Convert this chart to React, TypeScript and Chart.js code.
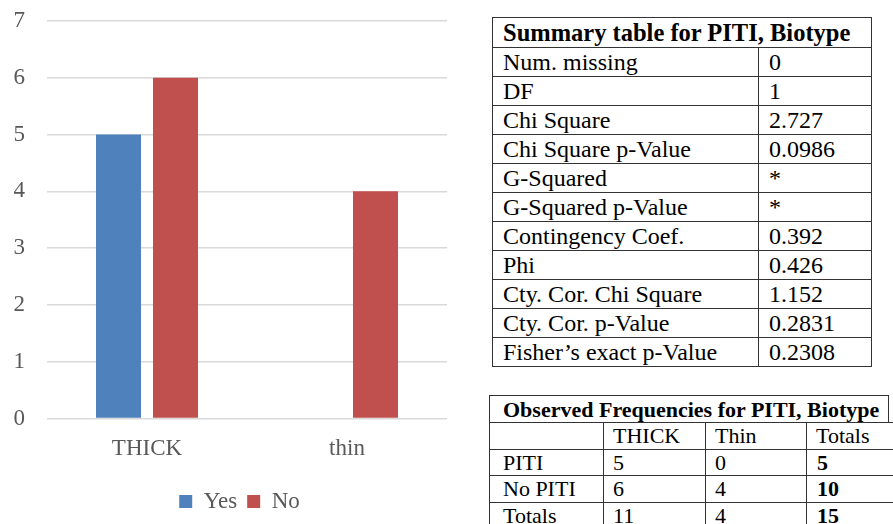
import React, { useEffect, useRef } from "react";
import { Chart, registerables } from "chart.js";

Chart.register(...registerables);

const categories = ["THICK", "thin"];
const yesValues = [5, 0];
const noValues = [6, 4];
const seriesNames = ["Yes", "No"];
const yTickMax = 7;

const summaryTitle = "Summary table for PITI, Biotype";
const summaryLabels = [
  "Num. missing",
  "DF",
  "Chi Square",
  "Chi Square p-Value",
  "G-Squared",
  "G-Squared p-Value",
  "Contingency Coef.",
  "Phi",
  "Cty. Cor. Chi Square",
  "Cty. Cor. p-Value",
  "Fisher\u2019s exact p-Value",
];
const summaryValues = ["0", "1", "2.727", "0.0986", "*", "*", "0.392", "0.426", "1.152", "0.2831", "0.2308"];

const freqTitle = "Observed Frequencies for PITI, Biotype";
const freqHeader = ["", "THICK", "Thin", "Totals"];
const freqRowLabels = ["PITI", "No PITI", "Totals"];
const freqThick = ["5", "6", "11"];
const freqThin = ["0", "4", "4"];
const freqTotals = ["5", "10", "15"];

const FONT = "'Liberation Serif', 'Times New Roman', serif";
const TEXT = "#595959";
const CH_LEFT = 14;
const CH_TOP = 8;
const CH_W = 446;
const CH_H = 516;

const legendShift = {
  id: "legendShift",
  afterLayout(chart: any) {
    if (chart.legend) {
      chart.legend.left += 9;
      chart.legend.right += 9;
    }
  },
};

function BarChart() {
  const ref = useRef<HTMLCanvasElement | null>(null);
  useEffect(() => {
    if (!ref.current) return;
    const chart = new Chart(ref.current, {
      type: "bar",
      data: {
        labels: categories,
        datasets: [
          { label: seriesNames[0], data: yesValues, backgroundColor: "#4f81bd", barPercentage: 0.79, categoryPercentage: 0.57 },
          { label: seriesNames[1], data: noValues, backgroundColor: "#c0504d", barPercentage: 0.79, categoryPercentage: 0.57 },
        ],
      },
      plugins: [legendShift],
      options: {
        responsive: false,
        maintainAspectRatio: false,
        animation: false,
        layout: { padding: { left: 0, right: 13, top: 13, bottom: 1 } },
        plugins: {
          tooltip: { enabled: false },
          legend: {
            position: "bottom",
            labels: {
              boxWidth: 13,
              boxHeight: 13,
              padding: 10,
              color: TEXT,
              font: { family: FONT, size: 23 },
            },
          },
        },
        scales: {
          x: {
            grid: { display: false, drawTicks: false },
            border: { display: false },
            ticks: { color: TEXT, font: { family: FONT, size: 23, lineHeight: 2.5 }, padding: 2 },
            afterFit: (s: any) => {
              s.paddingLeft = 0;
              s.paddingRight = 0;
            },
          },
          y: {
            min: 0,
            max: yTickMax,
            grid: { color: "#d9d9d9", lineWidth: 1.5, drawTicks: false },
            border: { display: false },
            ticks: { stepSize: 1, color: TEXT, font: { family: FONT, size: 23 }, padding: 22 },
            afterFit: (s: any) => {
              s.width = 33;
              s.paddingTop = 0;
              s.paddingBottom = 0;
            },
          },
        },
      },
    });
    return () => chart.destroy();
  }, []);
  return <canvas ref={ref} width={CH_W} height={CH_H} style={{ position: "absolute", left: CH_LEFT, top: CH_TOP }} />;
}

const B = "1px solid #333";

export default function App() {
  return (
    <div style={{ position: "absolute", left: 0, top: 0, width: 893, height: 524, overflow: "hidden", background: "#fff" }}>
      <BarChart />
      <table
        style={{
          position: "absolute",
          left: 492,
          top: 17,
          width: 379,
          borderCollapse: "collapse",
          fontFamily: FONT,
          fontSize: 24,
          color: "#000",
          tableLayout: "fixed",
        }}
      >
        <colgroup>
          <col style={{ width: 266 }} />
          <col style={{ width: 113 }} />
        </colgroup>
        <tbody>
          <tr style={{ height: 30 }}>
            <th colSpan={2} style={{ border: B, textAlign: "left", padding: "0 0 0 10px", fontSize: 24.5, lineHeight: "28px", whiteSpace: "nowrap" }}>
              {summaryTitle}
            </th>
          </tr>
          {summaryLabels.map((l, i) => (
            <tr key={l} style={{ height: 29 }}>
              <td style={{ border: B, padding: "0 0 0 10px", lineHeight: "27px", whiteSpace: "nowrap" }}>{l}</td>
              <td style={{ border: B, padding: "0 0 0 10px", lineHeight: "27px" }}>{summaryValues[i]}</td>
            </tr>
          ))}
        </tbody>
      </table>
      <div
        style={{
          position: "absolute",
          left: 489,
          top: 395,
          width: 400,
          height: 27,
          borderLeft: B,
          borderTop: B,
          borderRight: B,
          fontFamily: FONT,
          fontWeight: "bold",
          fontSize: 22,
          lineHeight: "27px",
          paddingLeft: 13,
          boxSizing: "border-box",
          whiteSpace: "nowrap",
        }}
      >
        {freqTitle}
      </div>
      <table
        style={{
          position: "absolute",
          left: 489,
          top: 422,
          width: 430,
          borderCollapse: "collapse",
          fontFamily: FONT,
          fontSize: 22,
          color: "#000",
          tableLayout: "fixed",
        }}
      >
        <colgroup>
          <col style={{ width: 114 }} />
          <col style={{ width: 102 }} />
          <col style={{ width: 101 }} />
          <col style={{ width: 113 }} />
        </colgroup>
        <tbody>
          <tr style={{ height: 26.5 }}>
            {freqHeader.map((h, i) => (
              <td key={i} style={{ border: B, padding: "0 0 0 9px", lineHeight: "25px" }}>{h}</td>
            ))}
          </tr>
          {freqRowLabels.map((l, i) => (
            <tr key={l} style={{ height: 26.5 }}>
              <td style={{ border: B, padding: "0 0 0 13px", lineHeight: "25px", whiteSpace: "nowrap" }}>{l}</td>
              <td style={{ border: B, padding: "0 0 0 9px", lineHeight: "25px" }}>{freqThick[i]}</td>
              <td style={{ border: B, padding: "0 0 0 9px", lineHeight: "25px" }}>{freqThin[i]}</td>
              <td style={{ border: B, padding: "0 0 0 10px", lineHeight: "25px", fontWeight: "bold" }}>{freqTotals[i]}</td>
            </tr>
          ))}
        </tbody>
      </table>
    </div>
  );
}
